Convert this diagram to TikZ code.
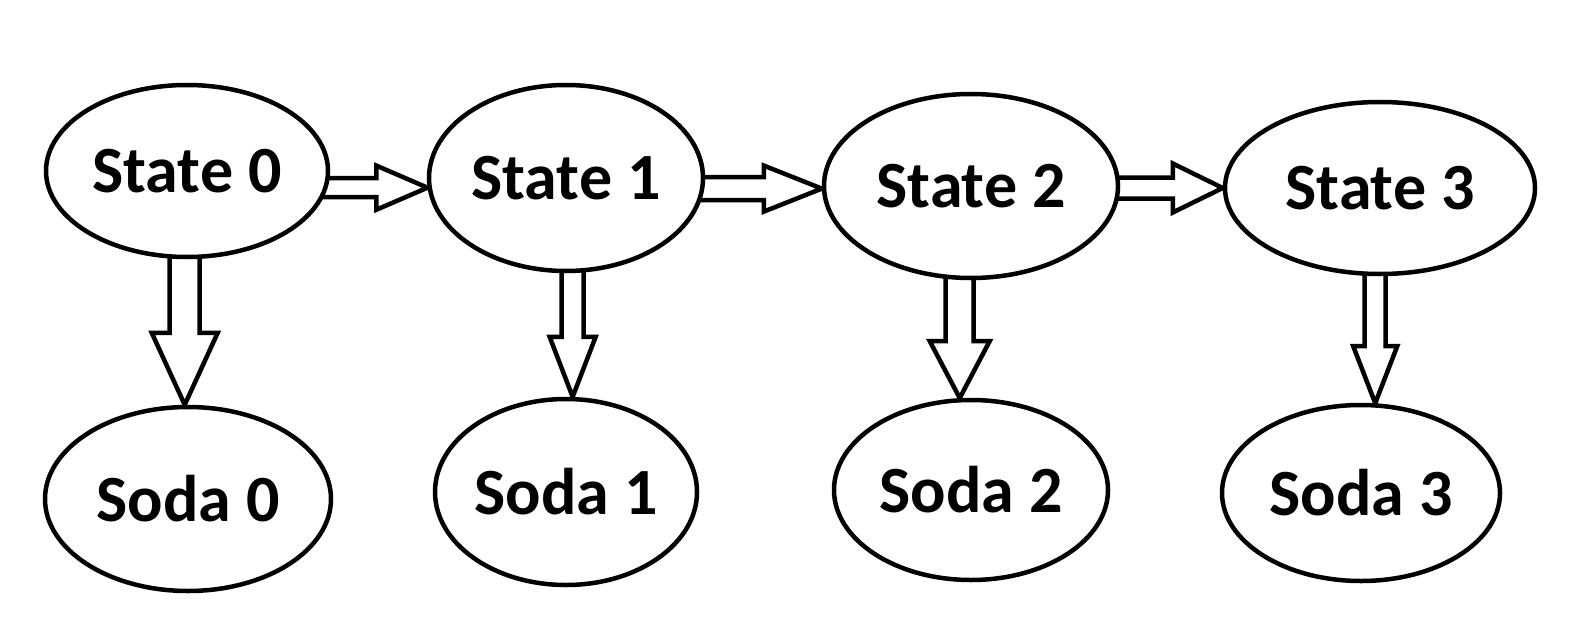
\documentclass[tikz,border=0pt]{standalone}
\usepackage{fontspec}
\setmainfont{Carlito}
\usetikzlibrary{calc, shapes.geometric, backgrounds}
\tikzset{
  oval/.style={draw, ellipse, line width=2.25pt, fill=white, inner sep=0pt,
               font=\bfseries\fontsize{33}{40}\selectfont},
  shaftw/.store in=\shaftw, headw/.store in=\headw, headl/.store in=\headl,
  shaftw=5pt, headw=11.5pt, headl=28pt,
  fatright/.style={draw, line width=2.25pt, line join=miter, to path={
    let \p1=(\tikztostart), \p2=(\tikztotarget) in
    (\x1,\y2+\shaftw) -- (\x2-\headl,\y2+\shaftw) -- (\x2-\headl,\y2+\headw)
    -- (\x2,\y2) -- (\x2-\headl,\y2-\headw) -- (\x2-\headl,\y2-\shaftw)
    -- (\x1,\y2-\shaftw) -- cycle}},
  fatdown/.style={draw, line width=2.25pt, line join=miter, to path={
    let \p1=(\tikztostart), \p2=(\tikztotarget) in
    (\x2+\shaftw,\y1) -- (\x2+\shaftw,\y2+\headl) -- (\x2+\headw,\y2+\headl)
    -- (\x2,\y2) -- (\x2-\headw,\y2+\headl) -- (\x2-\shaftw,\y2+\headl)
    -- (\x2-\shaftw,\y1) -- cycle}},
}

\begin{document}
\begin{tikzpicture}[x=0.5pt, y=-0.5pt]
  \useasboundingbox (0,0) rectangle (1594,631);

  % states
  \node[oval, minimum width=141pt, minimum height=86pt] (s0) at (187,171) {State 0};
  \node[oval, minimum width=137pt, minimum height=93pt] (s1) at (566,178) {State 1};
  \node[oval, minimum width=147pt, minimum height=92pt] (s2) at (971,186) {State 2};
  \node[oval, minimum width=155pt, minimum height=86pt] (s3) at (1380,188) {State 3};

  % sodas
  \node[oval, minimum width=143pt, minimum height=92pt] (d0) at (188,499) {Soda 0};
  \node[oval, minimum width=131pt, minimum height=93pt] (d1) at (566,492) {Soda 1};
  \node[oval, minimum width=137pt, minimum height=90pt] (d2) at (971,490) {Soda 2};
  \node[oval, minimum width=139pt, minimum height=88pt] (d3) at (1361,493) {Soda 3};

  \begin{scope}[on background layer]
    \draw[fatright, shaftw=4.75pt, headw=11pt, headl=25.5pt] (s0) to (s1.184);
    \draw[fatright, shaftw=5.75pt, headw=11.5pt, headl=29pt] (s1) to (s2.181);
    \draw[fatright, shaftw=5.25pt, headw=12.25pt, headl=25pt] (s2) to (s3.west);

    \draw[fatdown, shaftw=7.5pt, headw=16.5pt, headl=36pt] (s0) to (d0.92);
    \draw[fatdown, shaftw=5.5pt, headw=11.5pt, headl=30pt] (s1) to (d1.86);
    \draw[fatdown, shaftw=7pt, headw=15pt, headl=28.5pt] (s2) to (d2.97);
    \draw[fatdown, shaftw=5.25pt, headw=11pt, headl=28.5pt] (s3) to (d3.81);
  \end{scope}
\end{tikzpicture}
\end{document}
